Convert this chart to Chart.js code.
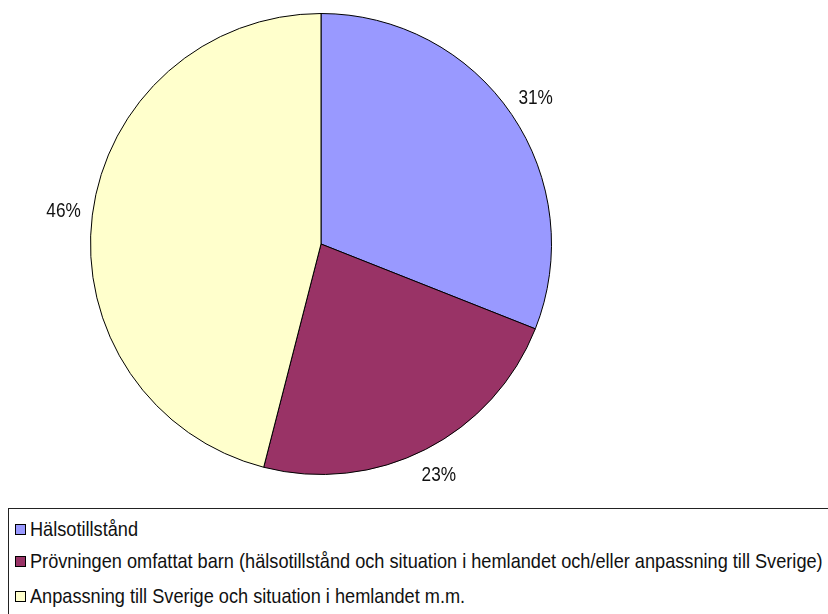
<!DOCTYPE html>
<html>
<head>
<meta charset="utf-8">
<script src="https://cdn.jsdelivr.net/npm/chart.js@4.4.0/dist/chart.umd.min.js"></script>
<style>
    html, body {
        margin: 0;
        padding: 0;
        background: #fff;
        width: 828px;
        height: 614px;
        overflow: hidden;
        font-family: "Liberation Sans", Arial, sans-serif;
    }
    #wrap { position: relative; width: 828px; height: 614px; }
    #pie { position: absolute; left: 0; top: 0; }
    .legend-box {
        position: absolute;
        left: 8px;
        top: 508px;
        width: 840px;
        height: 120px;
        border: 1px solid #222;
        box-sizing: border-box;
    }
    .legend-item {
        position: absolute;
        left: 6px;
        height: 22px;
        line-height: 22px;
        font-size: 21px;
        color: #111;
        white-space: nowrap;
    }
    .legend-item .swatch {
        position: absolute;
        left: 0;
        top: 6px;
        width: 9px;
        height: 9px;
        border: 1px solid #000;
    }
    /* condensed look: squeeze the text horizontally */
    .legend-item span.text {
        position: absolute;
        left: 15px;
        top: 0;
        transform: scaleX(0.865);
        transform-origin: 0 50%;
    }
</style>
</head>
<body>
<div id="wrap">
    <canvas id="pie" width="828" height="500"></canvas>
    <div class="legend-box" id="legend"></div>
</div>
<script>
// Slice labels and shares (percent)
const categories = [
    'Hälsotillstånd',
    'Prövningen omfattat barn (hälsotillstånd och situation i hemlandet och/eller anpassning till Sverige)',
    'Anpassning till Sverige och situation i hemlandet m.m.'
];
const shares = [31, 23, 46];
const sliceColors = ['#9999FF', '#993366', '#FFFFCC'];

const SQUEEZE = 0.82;

// Percent labels just outside each slice
const outsideLabels = {
    id: 'outsideLabels',
    afterDatasetsDraw(chart) {
        const { ctx } = chart;
        const meta = chart.getDatasetMeta(0);
        const data = chart.data.datasets[0].data;
        const total = data.reduce((a, b) => a + b, 0);
        meta.data.forEach((arc, i) => {
            const p = arc.getProps(['x', 'y', 'startAngle', 'endAngle', 'outerRadius'], true);
            const mid = (p.startAngle + p.endAngle) / 2;
            const r = p.outerRadius + 29;
            const pct = Math.round(data[i] / total * 100) + '%';
            ctx.save();
            ctx.translate(p.x + Math.cos(mid) * r, p.y + Math.sin(mid) * r);
            ctx.scale(SQUEEZE, 1);
            ctx.font = '21px "Liberation Sans", Arial, sans-serif';
            ctx.fillStyle = '#111';
            ctx.textAlign = 'center';
            ctx.textBaseline = 'middle';
            ctx.fillText(pct, 0, 0);
            ctx.restore();
        });
    }
};

new Chart(document.getElementById('pie'), {
    type: 'pie',
    data: {
        labels: categories,
        datasets: [{
            data: shares,
            backgroundColor: sliceColors,
            borderColor: '#000',
            borderWidth: 1
        }]
    },
    options: {
        responsive: false,
        animation: false,
        layout: { padding: { left: 90, right: 276, top: 13, bottom: 25 } },
        plugins: {
            legend: { display: false },
            tooltip: { enabled: false }
        }
    },
    plugins: [outsideLabels]
});

// Boxed legend under the pie
const legend = document.getElementById('legend');
const rowTops = [9, 41, 76];
categories.forEach((name, i) => {
    const item = document.createElement('div');
    item.className = 'legend-item';
    item.style.top = rowTops[i] + 'px';
    item.innerHTML = '<div class="swatch" style="background:' + sliceColors[i] + '"></div>' +
        '<span class="text"></span>';
    item.querySelector('.text').textContent = name;
    legend.appendChild(item);
});
</script>
</body>
</html>
